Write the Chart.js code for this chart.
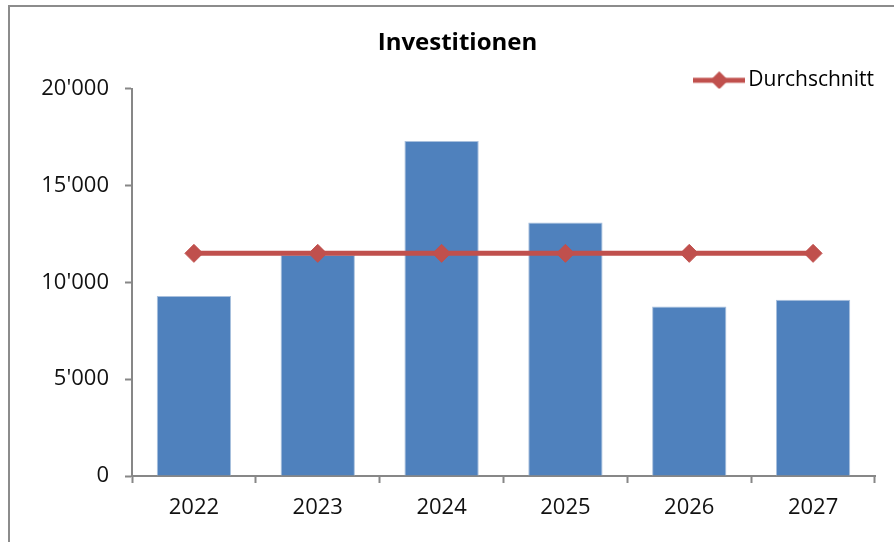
<!DOCTYPE html>
<html lang="de">
<head>
    <meta charset="UTF-8">
    <title>Investitionen</title>
    <style>
        body {
            margin: 0;
            padding: 0;
            background-color: white;
            overflow: hidden;
        }
        .rahmen {
            position: absolute;
            left: 8px;
            top: 5px;
            width: 1000px;
            height: 1000px;
            border: 2px solid #8c8c8c;
        }
        .chart-box {
            position: absolute;
            left: 0;
            top: 0;
            width: 894px;
            height: 542px;
        }
    </style>
    <script src="https://cdn.jsdelivr.net/npm/chart.js"></script>
</head>
<body>
<div class="rahmen"></div>
<div class="chart-box">
    <canvas id="investChart" width="894" height="542"></canvas>
</div>
<script>
    // Daten
    const jahre = ['2022', '2023', '2024', '2025', '2026', '2027'];
    const investitionen = [9300, 11420, 17300, 13100, 8760, 9100];
    const durchschnitt = [11500, 11500, 11500, 11500, 11500, 11500];
    const yTicks = [0, 5000, 10000, 15000, 20000];
    const yTickLabels = ["0", "5'000", "10'000", "15'000", "20'000"];

    const blau = '#4F81BD';
    const rot = '#C0504D';
    const achse = '#878787';
    const schrift = "'Open Sans', 'Noto Sans', sans-serif";

    // Legendensymbol: Linie mit Raute
    const symbol = document.createElement('canvas');
    symbol.width = 52;
    symbol.height = 20;
    const sctx = symbol.getContext('2d');
    sctx.strokeStyle = rot;
    sctx.lineWidth = 5;
    sctx.beginPath();
    sctx.moveTo(0, 10);
    sctx.lineTo(52, 10);
    sctx.stroke();
    sctx.fillStyle = rot;
    sctx.beginPath();
    sctx.moveTo(17, 10);
    sctx.lineTo(26, 1);
    sctx.lineTo(35, 10);
    sctx.lineTo(26, 19);
    sctx.closePath();
    sctx.fill();

    const ctx = document.getElementById('investChart').getContext('2d');
    new Chart(ctx, {
        data: {
            labels: jahre,
            datasets: [{
                type: 'line',
                label: 'Durchschnitt',
                data: durchschnitt,
                borderColor: rot,
                borderWidth: 5,
                pointStyle: 'rectRot',
                pointRadius: 9,
                pointBackgroundColor: rot,
                pointBorderColor: rot,
                pointBorderWidth: 1,
                order: 0
            }, {
                type: 'bar',
                label: 'Investitionen',
                data: investitionen,
                backgroundColor: blau,
                borderColor: '#A9C0DD',
                borderWidth: 1,
                categoryPercentage: 1,
                barPercentage: 0.6,
                order: 1
            }]
        },
        options: {
            responsive: false,
            animation: false,
            layout: {
                padding: { left: 40, right: 19, top: 0, bottom: 0 }
            },
            plugins: {
                title: {
                    display: true,
                    text: 'Investitionen',
                    color: '#000',
                    font: { family: schrift, size: 24, weight: 'bold', lineHeight: 1.2 },
                    padding: { top: 29, bottom: 11 }
                },
                legend: {
                    display: true,
                    position: 'top',
                    align: 'end',
                    maxHeight: 20,
                    labels: {
                        usePointStyle: true,
                        pointStyleWidth: 37,
                        padding: 1,
                        color: '#111',
                        font: { family: schrift, size: 21 },
                        generateLabels: chart => [{
                            text: 'Durchschnitt',
                            pointStyle: symbol,
                            fillStyle: rot,
                            strokeStyle: rot,
                            lineWidth: 0,
                            datasetIndex: 0
                        }]
                    }
                },
                tooltip: { enabled: false }
            },
            scales: {
                x: {
                    grid: {
                        offset: true,
                        drawOnChartArea: false,
                        tickLength: 7,
                        tickColor: achse,
                        tickWidth: 2
                    },
                    border: { color: achse, width: 2 },
                    ticks: {
                        color: '#111',
                        padding: 12,
                        font: { family: schrift, size: 22 }
                    },
                    afterFit: scale => { scale.height = 66; }
                },
                y: {
                    min: 0,
                    max: 20000,
                    grid: {
                        drawOnChartArea: false,
                        tickLength: 7,
                        tickColor: achse,
                        tickWidth: 2
                    },
                    border: { color: achse, width: 2 },
                    afterBuildTicks: scale => {
                        scale.ticks = yTicks.map(v => ({ value: v }));
                    },
                    ticks: {
                        color: '#111',
                        padding: 16,
                        font: { family: schrift, size: 22 },
                        callback: (value) => yTickLabels[yTicks.indexOf(value)]
                    },
                    afterFit: scale => { scale.width = 92; }
                }
            }
        }
    });
</script>
</body>
</html>
